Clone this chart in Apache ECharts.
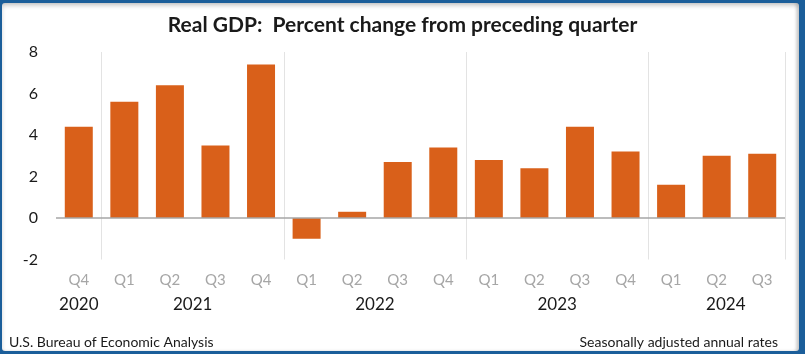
<!DOCTYPE html>
<html>
<head>
<meta charset="utf-8">
<script src="https://cdn.jsdelivr.net/npm/echarts@6/dist/echarts.min.js"></script>
<style>
  html, body { margin: 0; padding: 0; }
  body { width: 805px; height: 354px; background: #1b5e9a; position: relative; overflow: hidden; }
  #frame {
    position: absolute; left: 2px; top: 3px; width: 797px; height: 348px;
    background: #fff; border-radius: 3px;
    box-shadow: inset 0 3px 4px rgba(0,0,0,0.18), inset -3px 0 3px rgba(0,0,0,0.15);
  }
  #chart { position: absolute; left: -2px; top: -3px; width: 805px; height: 354px; }
</style>
</head>
<body>
<div id="frame"><div id="chart"></div></div>
<script>
// 季度标签
var quarters = ['Q4', 'Q1', 'Q2', 'Q3', 'Q4', 'Q1', 'Q2', 'Q3', 'Q4', 'Q1', 'Q2', 'Q3', 'Q4', 'Q1', 'Q2', 'Q3'];
// 实际GDP环比（年化）
var gdpChange = [4.4, 5.6, 6.4, 3.5, 7.4, -1.0, 0.3, 2.7, 3.4, 2.8, 2.4, 4.4, 3.2, 1.6, 3.0, 3.1];
// 年份标签及其在分类轴上的位置
var years = ['2020', '2021', '2022', '2023', '2024'];
var yearPos = [0.5, 3, 7, 11, 14.7];
// 年份分隔线所在的分类序号
var yearStarts = [1, 5, 9, 13];

var chart = echarts.init(document.getElementById('chart'));
var font = 'Lato, "Noto Sans", sans-serif';

var option = {
    animation: false,
    textStyle: { fontFamily: font },
    title: [{
        text: 'Real GDP:  Percent change from preceding quarter',
        left: 'center',
        top: 10,
        textStyle: { fontFamily: font, fontSize: 21, fontWeight: 'bold', color: '#1a1a1a' }
    }, {
        text: 'U.S. Bureau of Economic Analysis',
        left: 4,
        top: 330,
        textStyle: { fontFamily: font, fontSize: 14, fontWeight: 'normal', color: '#1a1a1a' }
    }, {
        text: 'Seasonally adjusted annual rates',
        right: 22,
        top: 330,
        textStyle: { fontFamily: font, fontSize: 14, fontWeight: 'normal', color: '#1a1a1a' }
    }],
    grid: { left: 56, right: 20, top: 52, bottom: 94.5 },
    xAxis: [{
        type: 'category',
        data: quarters,
        axisLine: { show: false },
        axisTick: { show: false },
        axisLabel: { color: '#a6a6a6', fontSize: 15, margin: 13, fontFamily: font },
        splitLine: {
            show: true,
            interval: function (index) { return yearStarts.indexOf(index) >= 0; },
            lineStyle: { color: '#e3e3e3', width: 1 }
        }
    }, {
        type: 'value',
        min: 0,
        max: 16,
        interval: 0.1,
        position: 'bottom',
        axisLine: { show: false },
        axisTick: { show: false },
        splitLine: { show: false },
        axisLabel: {
            show: true,
            margin: 37,
            fontSize: 17,
            color: '#1a1a1a',
            fontFamily: font,
            showMinLabel: true,
            showMaxLabel: true,
            formatter: function (v) {
                var r = Math.round(v * 10) / 10;
                for (var i = 0; i < yearPos.length; i++) {
                    if (Math.abs(yearPos[i] - r) < 0.01) return years[i];
                }
                return '';
            }
        }
    }],
    yAxis: {
        type: 'value',
        min: -2,
        max: 8,
        interval: 2,
        axisLine: { show: false },
        axisTick: { show: false },
        splitLine: { show: false },
        axisLabel: { color: '#1a1a1a', fontSize: 16, margin: 18, fontFamily: font }
    },
    series: [{
        type: 'bar',
        data: gdpChange,
        barWidth: 28,
        itemStyle: { color: '#d9601a' },
        markLine: {
            silent: true,
            symbol: 'none',
            label: { show: false },
            lineStyle: { color: '#a6a6a6', width: 1.5, type: 'solid' },
            data: [{ yAxis: 0 }]
        }
    }]
};
chart.setOption(option);
</script>
</body>
</html>
